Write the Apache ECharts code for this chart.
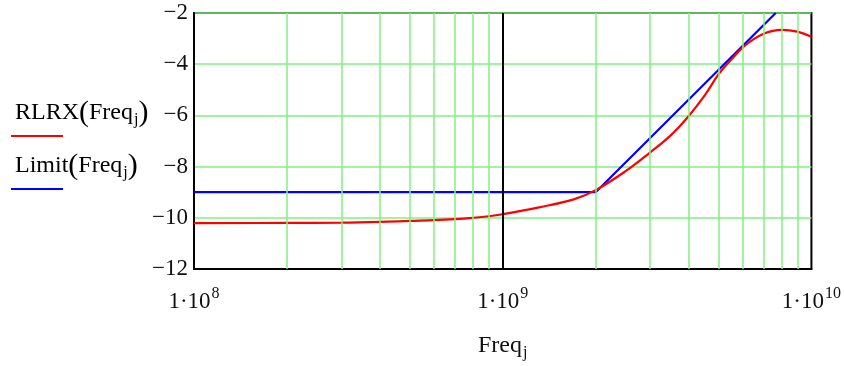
<!DOCTYPE html>
<html>
<head>
<meta charset="utf-8">
<script src="https://cdn.jsdelivr.net/npm/echarts@6/dist/echarts.min.js"></script>
<style>
  html, body { margin: 0; padding: 0; background: #fff; }
  #chart { width: 844px; height: 366px; }
</style>
</head>
<body>
<div id="chart"></div>
<script>
// RLRX(Freq_j)
const freq = [1e8, 2e8, 3e8, 4e8, 5e8, 6e8, 7e8, 8e8, 9e8, 1e9, 1.3e9, 1.7e9, 2e9, 2.5e9, 3e9, 3.5e9, 4e9, 4.5e9, 5e9, 5.5e9, 6e9, 6.5e9, 7e9, 7.5e9, 8e9, 9e9, 1e10];
const rlrx = [-10.21, -10.2, -10.19, -10.16, -10.12, -10.09, -10.05, -10.0, -9.94, -9.86, -9.6, -9.28, -8.92, -8.18, -7.45, -6.78, -6.03, -5.24, -4.4, -3.82, -3.34, -3.02, -2.81, -2.7, -2.66, -2.73, -2.93];

// Limit(Freq_j): flat, then a straight rise up to the top of the plot
const limitFreq = [1e8, 2e9, 7.66e9];
const limitVal = [-9, -9, -2];

// vertical grid lines (2..9 per decade) and the black one at 1e9
const minorFreq = [2e8, 3e8, 4e8, 5e8, 6e8, 7e8, 8e8, 9e8, 2e9, 3e9, 4e9, 5e9, 6e9, 7e9, 8e9, 9e9];
const axisFreq = 1e9;

const green = '#7ff37f';
const serif = '"Liberation Serif", "DejaVu Serif", serif';

const chart = echarts.init(document.getElementById('chart'));

const legendRich = {
  n: { fontFamily: serif, fontSize: 24, color: '#111' },
  p: { fontFamily: serif, fontSize: 30, color: '#111' },
  s: { fontFamily: serif, fontSize: 16, color: '#111', padding: [14, 0, 0, 1] },
};

chart.setOption({
  animation: false,
  grid: { left: 194, right: 32, top: 13, bottom: 96, show: true, borderColor: '#000', borderWidth: 2, backgroundColor: 'transparent' },
  xAxis: {
    type: 'log',
    logBase: 10,
    min: 1e8,
    max: 1e10,
    axisLine: { show: true, lineStyle: { color: '#000', width: 2 } },
    axisTick: { show: false },
    splitLine: { show: false },
    axisLabel: {
      margin: 17,
      formatter: (v) => '{a|1·10}{e|' + Math.round(Math.log10(v)) + '}',
      rich: {
        a: { fontFamily: serif, fontSize: 23, color: '#111' },
        e: { fontFamily: serif, fontSize: 16, color: '#111', padding: [0, 0, 15, 1] },
      },
    },
    name: '{n|Freq}{s|j}',
    nameLocation: 'middle',
    nameGap: 62,
    nameTextStyle: { rich: legendRich },
  },
  yAxis: {
    type: 'value',
    min: -12,
    max: -2,
    interval: 2,
    axisLine: { show: true, lineStyle: { color: '#000', width: 2 } },
    axisTick: { show: false },
    splitLine: { show: true, lineStyle: { color: green, width: 1.5 } },
    axisLabel: {
      margin: 6,
      fontFamily: serif,
      fontSize: 23,
      color: '#111',
      formatter: (v) => String(v).replace('-', '\u2212'),
    },
  },
  series: [
    {
      name: 'grid',
      type: 'line',
      data: [],
      silent: true,
      markLine: {
        silent: true,
        symbol: 'none',
        label: { show: false },
        animation: false,
        data: minorFreq.map((f) => ({ xAxis: f, lineStyle: { color: green, width: 1.5, type: 'solid' } }))
          .concat([{ xAxis: axisFreq, lineStyle: { color: '#000', width: 2, type: 'solid' } }]),
      },
    },
    {
      name: 'Limit',
      type: 'line',
      data: limitFreq.map((f, i) => [f, limitVal[i]]),
      showSymbol: false,
      lineStyle: { color: '#0000ff', width: 2.2 },
      z: 3,
    },
    {
      name: 'RLRX',
      type: 'line',
      data: freq.map((f, i) => [f, rlrx[i]]),
      showSymbol: false,
      smooth: 0.4,
      clip: false,
      lineStyle: { color: '#ff0000', width: 2.2 },
      z: 4,
    },
  ],
  graphic: [
    { type: 'text', left: 15, top: 98, style: { text: '{n|RLRX}{p|(}{n|Freq}{s|j}{p|)}', rich: legendRich } },
    { type: 'line', shape: { x1: 11, y1: 136, x2: 63, y2: 136 }, style: { stroke: '#ff0000', lineWidth: 2 } },
    { type: 'text', left: 15, top: 151, style: { text: '{n|Limit}{p|(}{n|Freq}{s|j}{p|)}', rich: legendRich } },
    { type: 'line', shape: { x1: 11, y1: 189, x2: 63, y2: 189 }, style: { stroke: '#0000ff', lineWidth: 2 } },
  ],
});
</script>
</body>
</html>
